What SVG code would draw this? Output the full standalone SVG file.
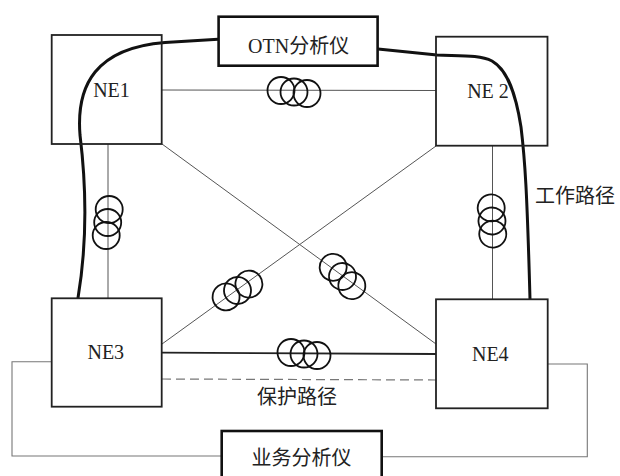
<svg xmlns="http://www.w3.org/2000/svg" width="620" height="476" viewBox="0 0 620 476">
  <style>
    .ne { fill: #fff; stroke: #222; stroke-width: 1.8; }
    .inst { fill: #fff; stroke: #111; stroke-width: 2.6; }
    .lbl { font-family: "Liberation Serif", "Noto Sans CJK SC", serif; font-size: 20px; fill: #222; text-anchor: middle; }
    .fiber { fill: none; stroke: #555; stroke-width: 1; }
    .fiber-main { fill: none; stroke: #222; stroke-width: 1.8; }
    .protect { fill: none; stroke: #777; stroke-width: 1.2; stroke-dasharray: 9 5; }
    .loop { fill: none; stroke: #777; stroke-width: 1.1; }
    .work { fill: none; stroke: #111; stroke-width: 3; stroke-linecap: round; }
    .coil { fill: none; stroke: #111; stroke-width: 1.8; }
  </style>
  <defs>
    <!-- fibre spool: three overlapping turns along the x axis -->
    <g id="spool">
      <circle class="coil" cx="-13" cy="-1.5" r="13.5"/>
      <circle class="coil" cx="0" cy="0" r="13.5"/>
      <circle class="coil" cx="13" cy="1.5" r="13.5"/>
    </g>
  </defs>

  <rect width="620" height="476" fill="#fff"/>

  <!-- fibre links between network elements -->
  <g id="connectors">
    <line class="fiber" x1="162" y1="90" x2="436" y2="90.5"/>
    <line class="fiber" x1="108" y1="144" x2="108" y2="298"/>
    <line class="fiber" x1="492.5" y1="146" x2="492.5" y2="299"/>
    <line class="fiber" x1="162" y1="144" x2="436" y2="344"/>
    <line class="fiber" x1="436" y1="146" x2="162" y2="344"/>
    <line class="fiber-main" x1="162" y1="352.7" x2="436" y2="354"/>
    <line class="protect" x1="162" y1="379" x2="436" y2="380"/>

    <!-- spools on each span -->
    <use href="#spool" transform="translate(294,92)"/>
    <use href="#spool" transform="translate(107.7,222.5) rotate(90)"/>
    <use href="#spool" transform="translate(492,221) rotate(80)"/>
    <use href="#spool" transform="translate(237.5,290.5) rotate(-36)"/>
    <use href="#spool" transform="translate(342.5,276.5) rotate(38)"/>
    <use href="#spool" transform="translate(304,354)"/>

    <!-- service analyser loop via NE3 and NE4 -->
    <polyline class="loop" points="52,361.7 12,361.7 12,456 222,456"/>
    <polyline class="loop" points="548,364 587.3,364 587.3,456.7 382,456.7"/>

    <!-- working path through the OTN analyser -->
    <path class="work" d="M78,298 C86,250 88,200 80,135 C76,85 96,48 165,42.5 L218,39.3"/>
    <path class="work" d="M378,49 L437,55 C462,56 480,55 492,61 C508,70 516,95 521,127 C525,160 527,190 530,299"/>

    <text class="lbl" x="535" y="202.6" style="text-anchor:start">工作路径</text>
    <text class="lbl" x="297" y="403.6">保护路径</text>
  </g>

  <g id="otn-analyser">
    <rect class="inst" x="218.6" y="16.7" width="159" height="49"/>
    <text class="lbl" x="298.6" y="52.5">OTN分析仪</text>
  </g>

  <g id="service-analyser">
    <rect class="inst" x="221.7" y="431" width="160" height="52"/>
    <text class="lbl" x="301.5" y="464.6">业务分析仪</text>
  </g>

  <g id="ne1">
    <rect class="ne" x="51.7" y="35" width="110" height="109" fill-opacity="0"/>
    <text class="lbl" x="111.5" y="97">NE1</text>
  </g>

  <g id="ne2">
    <rect class="ne" x="436" y="36.7" width="111.5" height="109" fill-opacity="0"/>
    <text class="lbl" x="488" y="98">NE 2</text>
  </g>

  <g id="ne3">
    <rect class="ne" x="51.7" y="298.3" width="110" height="108.4"/>
    <text class="lbl" x="105.8" y="359">NE3</text>
  </g>

  <g id="ne4">
    <rect class="ne" x="436" y="299.3" width="111.7" height="109"/>
    <text class="lbl" x="490.3" y="361">NE4</text>
  </g>
</svg>
